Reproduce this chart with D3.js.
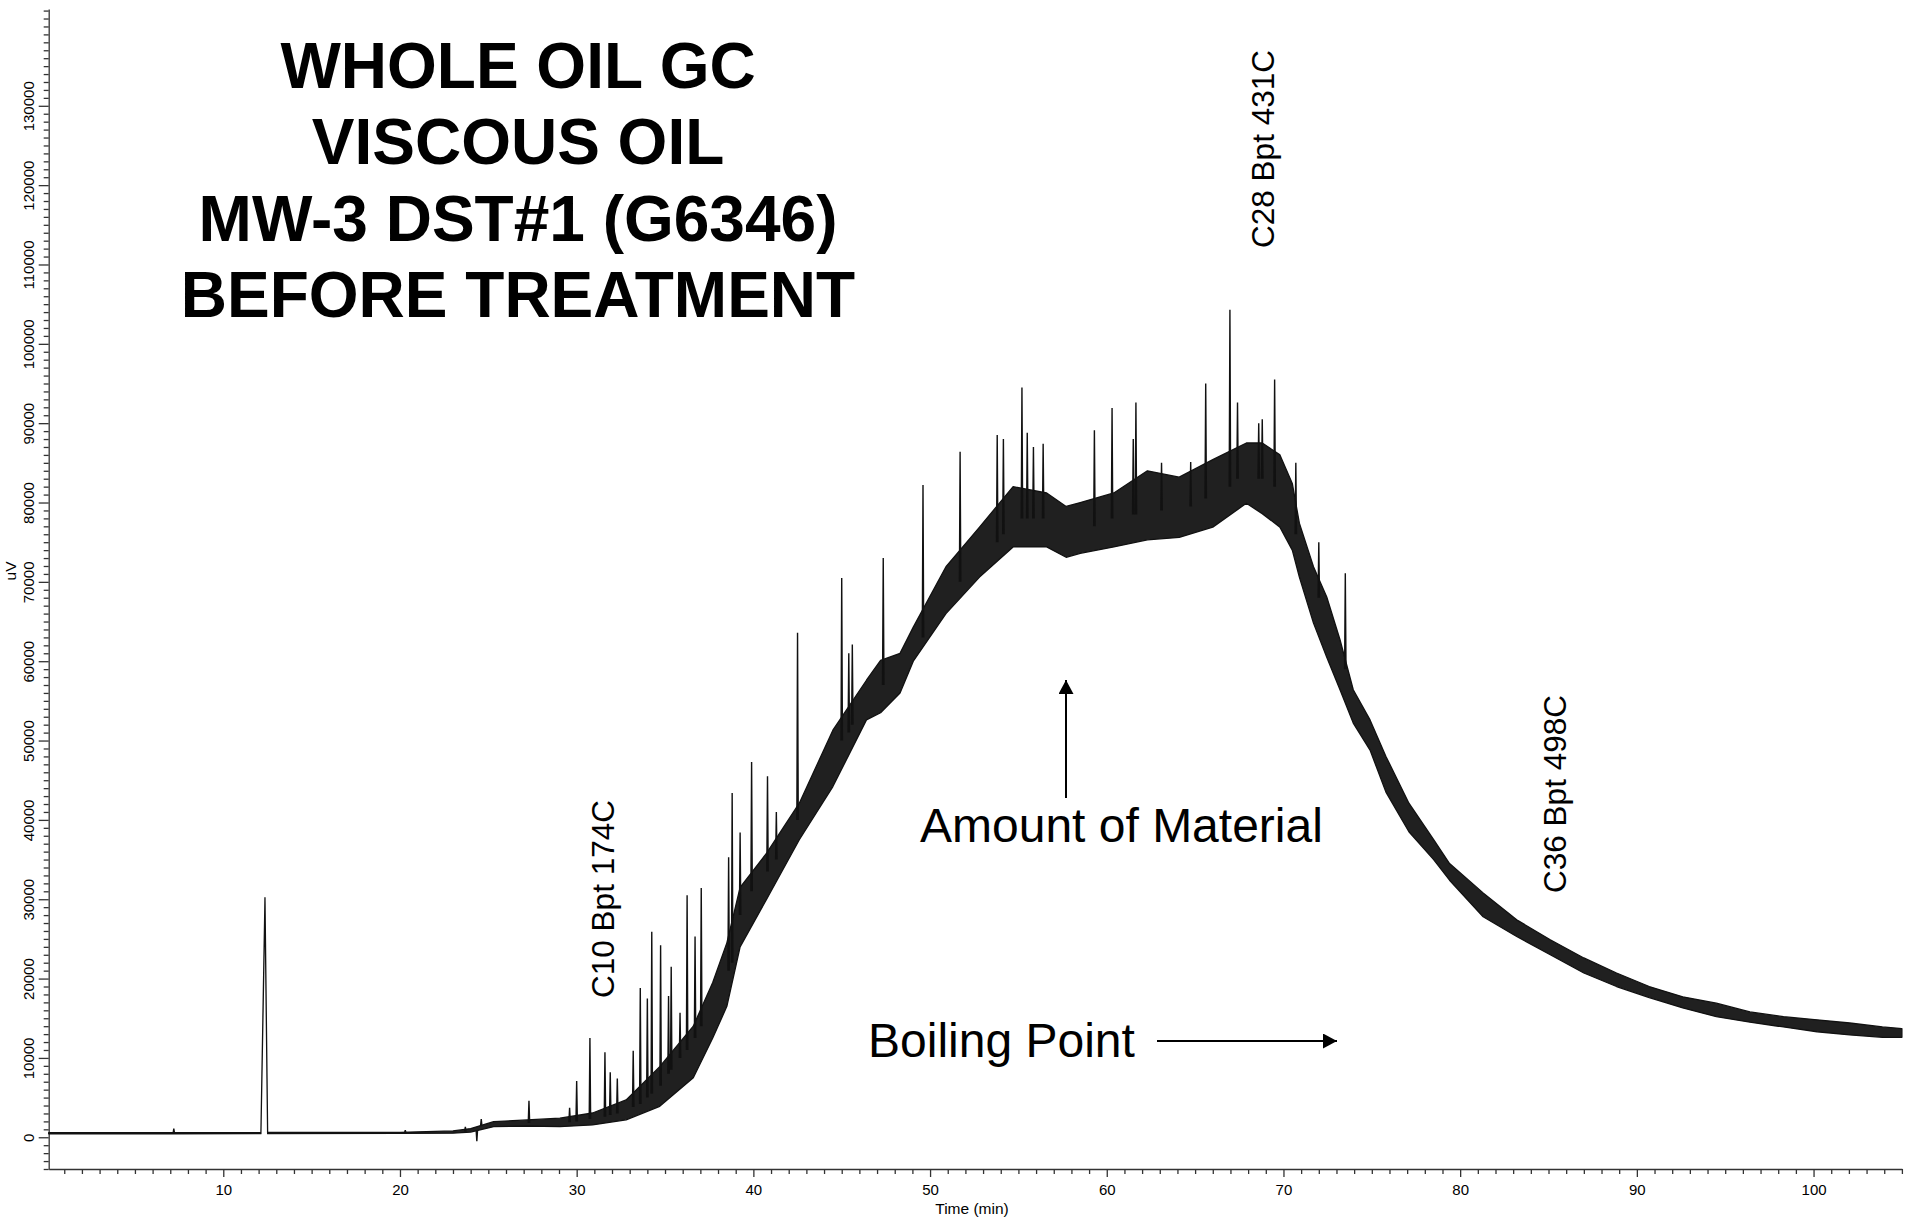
<!DOCTYPE html>
<html>
<head>
<meta charset="utf-8">
<script src="https://cdn.jsdelivr.net/npm/d3@7"></script>
<style>
  body { margin: 0; background: #fff; }
  svg text { font-family: "Liberation Sans", Arial, sans-serif; fill: #000; }
</style>
</head>
<body>
<svg id="chart" width="1905" height="1217"></svg>
<script>
// trace envelope: time (min), lower and upper edge of the noisy band (uV)
const bandTime = [0.12, 7.0, 12.0, 12.13, 12.36, 12.51, 20.0, 23.0, 24.0, 25.3, 27.2, 29.05, 30.9, 32.8, 34.7,
  36.6, 37.7, 38.5, 39.25, 40.75, 42.6, 44.5, 46.4, 47.2, 48.3, 49.05, 50.9, 52.8, 54.7, 56.6, 57.7, 58.5,
  60.4, 62.3, 64.1, 66.0, 67.9, 68.8, 69.8, 70.5, 70.9, 71.7, 72.45, 73.2, 73.95, 74.9, 75.8, 77.1, 78.5,
  79.4, 81.3, 83.2, 85.1, 87.0, 88.85, 90.7, 92.6, 94.5, 96.4, 98.3, 100.2, 102.05, 103.9, 105];
const bandLow = [430, 430, 450, 450, 29800, 450, 480, 520, 650, 1340, 1420, 1340, 1550, 2200, 3900,
  7500, 12500, 16500, 24000, 30000, 37500, 44200, 52600, 53500, 56000, 60000, 66000, 70600, 74400, 74400, 73100, 73600,
  74400, 75300, 75600, 76900, 79900, 78600, 76900, 74000, 70600, 64800, 60500, 56400, 52200, 48800, 43500, 38500, 35000,
  32400, 27800, 25300, 23000, 20700, 19000, 17600, 16300, 15200, 14500, 13900, 13300, 12900, 12600, 12600];
const bandHigh = [570, 570, 590, 600, 30200, 600, 620, 800, 1100, 1970, 2180, 2400, 3060, 4700, 8900,
  14000, 19500, 24500, 31500, 35800, 42100, 51300, 57600, 60100, 61000, 64300, 71900, 76900, 82000, 81200, 79500, 80000,
  81200, 84000, 83200, 85400, 87500, 87500, 86000, 82400, 77400, 71900, 68100, 62700, 56400, 52600, 48000, 42100, 37500,
  34500, 30800, 27400, 24900, 22600, 20700, 19000, 17700, 16900, 15800, 15200, 14800, 14400, 13900, 13700];

// individual sharp peaks: retention time, level they rise from, apex (uV)
const peakTime = [7.2, 20.3, 23.7, 24.35, 24.6, 27.3, 29.6, 30.0, 30.75, 31.6, 31.9, 32.3, 33.2, 33.6, 34.0, 34.25,
  34.75, 35.2, 35.35, 35.85, 36.25, 36.7, 37.05, 38.6, 38.8, 39.25, 39.9, 40.8, 41.3, 42.5, 45.0, 45.4, 45.6, 47.35,
  49.6, 51.7, 53.8, 54.15, 55.2, 55.5, 55.85, 56.4, 59.3, 60.3, 61.5, 61.65, 63.1, 64.75, 65.6, 66.97, 67.4, 68.6,
  68.8, 69.5, 70.7, 72.0, 73.5];
const peakBase = [500, 550, 700, 900, 1400, 1800, 1900, 2000, 2300, 2600, 2800, 3000, 3800, 4200, 5000, 5500,
  6500, 8000, 8500, 10000, 11000, 12500, 14000, 21000, 22000, 28000, 31000, 33500, 35000, 40000, 50000, 51000, 52000, 57000,
  63000, 70000, 75000, 76000, 78000, 78000, 78000, 78000, 77000, 78000, 78500, 78500, 79000, 79500, 80500, 82000, 83000, 83000,
  83000, 82000, 76000, 68000, 59000];
const peakTop = [1100, 900, 1300, -500, 2300, 4600, 3700, 7100, 12500, 10700, 8200, 7400, 10900, 18800, 17500, 25900,
  24200, 17800, 21500, 15700, 30500, 25300, 31400, 35300, 43400, 38400, 47300, 45500, 41000, 63600, 70500, 61000, 62100, 73000,
  82200, 86400, 88500, 88000, 94500, 88800, 87000, 87400, 89100, 91900, 88000, 92600, 85000, 85100, 95000, 104300, 92600, 90000,
  90500, 95500, 85000, 75000, 71100];

const yMajor = [0, 10000, 20000, 30000, 40000, 50000, 60000, 70000, 80000, 90000, 100000, 110000, 120000, 130000];
const xMajor = [10, 20, 30, 40, 50, 60, 70, 80, 90, 100];

const titleLines = ["WHOLE OIL GC", "VISCOUS OIL", "MW-3 DST#1 (G6346)", "BEFORE TREATMENT"];

function drawChromatogram()
{
    var svg = d3.select("#chart");

    var x = d3.scaleLinear().domain([0.12, 105]).range([48.7, 1901.9]);
    var y = d3.scaleLinear().domain([-4000, 142200]).range([1169, 9]);

    var axisColor = "#333";
    var font = "Liberation Sans, Arial, sans-serif";

    // minor ticks every 1000 uV / 1 min
    var yMinor = d3.range(-4000, 142001, 1000).filter(v => v % 10000 !== 0 || v > 130000);
    var xMinor = d3.range(1, 106, 1).filter(t => t % 10 !== 0 || t > 100);

    var yMinorG = svg.append("g")
        .attr("transform", "translate(48.7,0)")
        .call(d3.axisLeft(y).tickValues(yMinor).tickSize(5).tickFormat(""));
    yMinorG.select(".domain").remove();

    var yMajorG = svg.append("g")
        .attr("transform", "translate(48.7,0)")
        .call(d3.axisLeft(y).tickValues(yMajor).tickSize(10).tickSizeOuter(0).tickFormat(d3.format("d")));

    // labels read bottom to top, baseline just left of the long ticks
    yMajorG.selectAll("text")
        .attr("x", null).attr("dy", null)
        .attr("text-anchor", "middle")
        .attr("transform", "translate(-14.4,0) rotate(-90)")
        .style("font-size", "15px");

    var xMinorG = svg.append("g")
        .attr("transform", "translate(0,1169)")
        .call(d3.axisBottom(x).tickValues(xMinor).tickSize(5).tickFormat(""));
    xMinorG.select(".domain").remove();

    var xMajorG = svg.append("g")
        .attr("transform", "translate(0,1169)")
        .call(d3.axisBottom(x).tickValues(xMajor).tickSize(8).tickSizeOuter(0).tickPadding(7));
    xMajorG.selectAll("text").style("font-size", "15px");

    svg.selectAll(".domain, .tick line").attr("stroke", axisColor).attr("stroke-width", 1.3);
    svg.selectAll(".tick text").attr("fill", "#111").style("font-family", font);

    svg.append("text")
        .attr("x", 972).attr("y", 1214)
        .attr("text-anchor", "middle")
        .style("font-size", "15.5px")
        .text("Time (min)");

    svg.append("text")
        .attr("transform", "translate(15.5,571) rotate(-90)")
        .attr("text-anchor", "middle")
        .style("font-size", "15.5px")
        .text("uV");

    // the dense detector noise shows up as a dark band between the two edges
    var band = bandTime.map((t, i) => ({ t: t, lo: bandLow[i], hi: bandHigh[i] }));

    var area = d3.area()
        .x(d => x(d.t))
        .y0(d => y(d.lo))
        .y1(d => y(d.hi));

    svg.append("path")
        .datum(band)
        .attr("d", area)
        .attr("fill", "#202020")
        .attr("stroke", "#111")
        .attr("stroke-width", 1.3)
        .attr("stroke-linejoin", "round");

    var peaks = peakTime.map((t, i) => ({ t: t, base: peakBase[i], top: peakTop[i] }));
    var halfWidth = 0.04;

    svg.append("g")
        .selectAll("path")
        .data(peaks)
        .enter()
        .append("path")
        .attr("d", d => "M" + x(d.t - halfWidth) + "," + y(d.base)
                      + "L" + x(d.t) + "," + y(d.top)
                      + "L" + x(d.t + halfWidth) + "," + y(d.base))
        .attr("fill", "none")
        .attr("stroke", "#111")
        .attr("stroke-width", 1.4);

    // title block
    svg.append("g")
        .selectAll("text")
        .data(titleLines)
        .enter()
        .append("text")
        .attr("x", 518)
        .attr("y", (d, i) => 87.5 + i * 76.5)
        .attr("text-anchor", "middle")
        .style("font-size", "64px")
        .style("font-weight", "bold")
        .text(d => d);

    // carbon number markers, written vertically
    var markers = [
        { label: "C10 Bpt 174C", x: 614, y: 899 },
        { label: "C28 Bpt 431C", x: 1274, y: 149 },
        { label: "C36 Bpt 498C", x: 1566, y: 794 }
    ];
    svg.append("g")
        .selectAll("text")
        .data(markers)
        .enter()
        .append("text")
        .attr("transform", d => "translate(" + d.x + "," + d.y + ") rotate(-90)")
        .attr("text-anchor", "middle")
        .style("font-size", "31.5px")
        .text(d => d.label);

    svg.append("defs")
      .append("marker")
        .attr("id", "head")
        .attr("viewBox", "0 0 14 15")
        .attr("refX", 14).attr("refY", 7.5)
        .attr("markerWidth", 14).attr("markerHeight", 15)
        .attr("markerUnits", "userSpaceOnUse")
        .attr("orient", "auto")
      .append("path")
        .attr("d", "M0,0L14,7.5L0,15Z")
        .attr("fill", "#000");

    svg.append("line")
        .attr("x1", 1066).attr("y1", 798)
        .attr("x2", 1066).attr("y2", 680)
        .attr("stroke", "#000").attr("stroke-width", 2)
        .attr("marker-end", "url(#head)");

    svg.append("text")
        .attr("x", 920).attr("y", 842)
        .style("font-size", "48px")
        .text("Amount of Material");

    svg.append("text")
        .attr("x", 868).attr("y", 1057)
        .style("font-size", "48px")
        .text("Boiling Point");

    svg.append("line")
        .attr("x1", 1157).attr("y1", 1041)
        .attr("x2", 1337).attr("y2", 1041)
        .attr("stroke", "#000").attr("stroke-width", 2)
        .attr("marker-end", "url(#head)");
}

drawChromatogram();
</script>
</body>
</html>
